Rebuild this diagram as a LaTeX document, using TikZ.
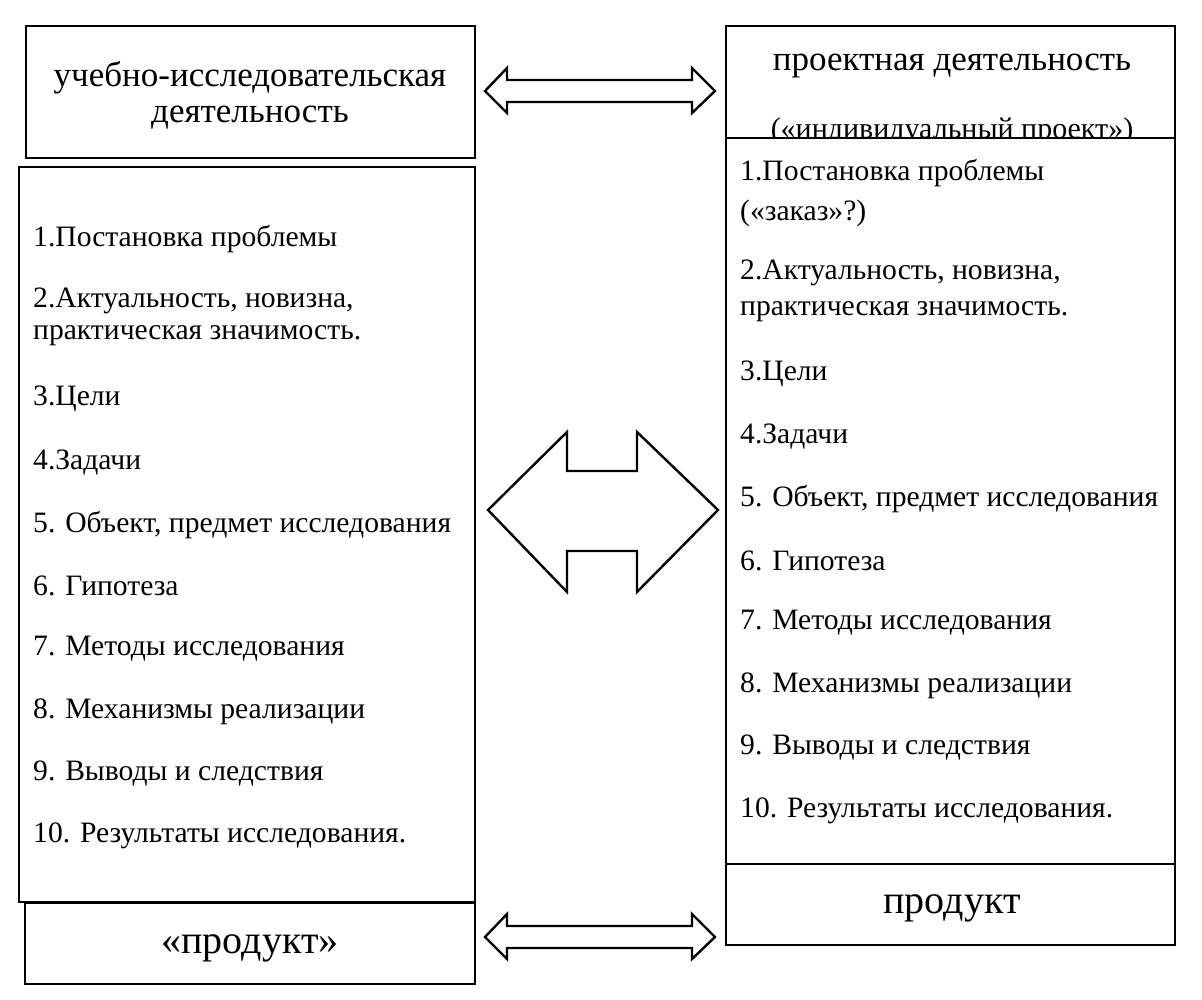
\documentclass[tikz,border=0pt]{standalone}
\usepackage{fontspec}
\setmainfont{Liberation Serif}
\begin{document}
\begin{tikzpicture}[x=1pt,y=-1pt,
  frame/.style={draw=black,line width=2.6pt,fill=white},
  blk/.style={draw=black,line width=2.4pt,fill=white,line join=miter},
  item/.style={anchor=west,inner sep=0pt,font=\fontsize{29.6}{34}\selectfont},
  ttl/.style={anchor=center,inner sep=0pt,font=\fontsize{35}{40}\selectfont},
  prod/.style={anchor=center,inner sep=0pt,font=\fontsize{40}{46}\selectfont}]
\useasboundingbox (0,0) rectangle (1202,1000);
% left column
\draw[frame] (26,26) rectangle (475,158);
\node[ttl] (lt1) at (250,78) {учебно-исследовательская};
\node[ttl] (lt2) at (250,118) {деятельность};
\draw[frame] (19,167) rectangle (475,902);
\draw[frame] (25,903) rectangle (475,984);
\node[prod] (lp) at (250,948) {«продукт»};
\node[item] (l1) at (33,239) {1.Постановка проблемы};
\node[item] (l2a) at (33,301) {2.Актуальность, новизна,};
\node[item] (l2b) at (33,336) {практическая значимость.};
\node[item] (l3) at (33,399) {3.Цели};
\node[item] (l4) at (33,463) {4.Задачи};
\node[item] (l5) at (33,525) {5. Объект, предмет исследования};
\node[item] (l6) at (33,586) {6. Гипотеза};
\node[item] (l7) at (33,649) {7. Методы исследования};
\node[item] (l8) at (33,712) {8. Механизмы реализации};
\node[item] (l9) at (33,774) {9. Выводы и следствия};
\node[item] (l10) at (33,836) {10. Результаты исследования.};
% right column
\draw[frame] (726,26) rectangle (1175,140);
\node[ttl] (rt1) at (952,66) {проектная деятельность};
\node[ttl,font=\fontsize{30}{34}\selectfont] (rt2) at (952,131) {(«индивидуальный проект»)};
\draw[frame] (726,138) rectangle (1175,903);
\draw[frame] (726,864) rectangle (1175,945);
\node[prod] (rp) at (952,908) {продукт};
\node[item] (r1a) at (740,173) {1.Постановка проблемы};
\node[item] (r1b) at (740,213) {(«заказ»?)};
\node[item] (r2a) at (740,273) {2.Актуальность, новизна,};
\node[item] (r2b) at (740,312) {практическая значимость.};
\node[item] (r3) at (740,374) {3.Цели};
\node[item] (r4) at (740,437) {4.Задачи};
\node[item] (r5) at (740,499) {5. Объект, предмет исследования};
\node[item] (r6) at (740,561) {6. Гипотеза};
\node[item] (r7) at (740,623) {7. Методы исследования};
\node[item] (r8) at (740,686) {8. Механизмы реализации};
\node[item] (r9) at (740,748) {9. Выводы и следствия};
\node[item] (r10) at (740,811) {10. Результаты исследования.};
% block arrows
\draw[blk] (485,91) -- (507,68) -- (507,80) -- (692,80) -- (692,68) -- (715,91)
  -- (692,113) -- (692,102) -- (507,102) -- (507,113) -- cycle;
\draw[blk] (488,510) -- (567,432) -- (567,471) -- (637,471) -- (637,432) -- (718,510)
  -- (637,592) -- (637,551) -- (567,551) -- (567,592) -- cycle;
\draw[blk] (485,937) -- (507,914) -- (507,926) -- (692,926) -- (692,914) -- (715,937)
  -- (692,959) -- (692,948) -- (507,948) -- (507,959) -- cycle;
\end{tikzpicture}
\end{document}
